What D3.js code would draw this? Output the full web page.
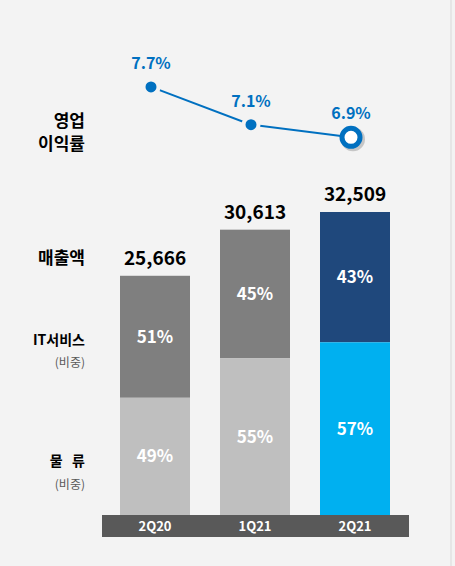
<!DOCTYPE html>
<html><head><meta charset="utf-8">
<script src="https://cdn.jsdelivr.net/npm/d3@7"></script>
<style>body{margin:0;background:#fff}text{font-family:"Noto Sans CJK KR","Open Sans",sans-serif;white-space:pre}</style>
</head><body><div id="chart"></div>
<script>
const quarters = ['2Q20', '1Q21', '2Q21'];
const sales = [25666, 30613, 32509];
const itShare = [51, 45, 43];
const logiShare = [49, 55, 57];
const margin = [7.7, 7.1, 6.9];

const W = 455, H = 566;
const svg = d3.select('#chart').append('svg').attr('width', W).attr('height', H);
svg.append('rect').attr('width', W).attr('height', H).attr('fill', '#f3f3f3');
svg.append('line').attr('x1', 451).attr('x2', 451).attr('y1', 0).attr('y2', H).attr('stroke', '#d9d9d9');

const x = d3.scaleBand().domain(quarters).range([105, 405]).paddingInner(0.3).paddingOuter(0.15);
const y = d3.scaleLinear().domain([0, 32509]).range([515, 212]);
const ym = d3.scaleLinear().domain([6, 8]).range([194, 68]);

const topCol = ['#7f7f7f', '#7f7f7f', '#1f487c'];
const botCol = ['#bfbfbf', '#bfbfbf', '#00b0f0'];

quarters.forEach((q, i) => {
  const x0 = x(q), bw = x.bandwidth();
  const yTop = y(sales[i]);
  const ySplit = y(sales[i] * logiShare[i] / 100);
  svg.append('rect').attr('x', x0).attr('y', yTop).attr('width', bw).attr('height', ySplit - yTop).attr('fill', topCol[i]);
  svg.append('rect').attr('x', x0).attr('y', ySplit).attr('width', bw).attr('height', 515 - ySplit).attr('fill', botCol[i]);
  svg.append('text').attr('x', x0 + bw / 2).attr('y', (yTop + ySplit) / 2 + 6).attr('text-anchor', 'middle')
    .attr('fill', '#fff').attr('font-size', 17).attr('font-weight', 'bold').text(itShare[i] + '%');
  svg.append('text').attr('x', x0 + bw / 2).attr('y', (ySplit + 515) / 2 + 6).attr('text-anchor', 'middle')
    .attr('fill', '#fff').attr('font-size', 17).attr('font-weight', 'bold').text(logiShare[i] + '%');
  svg.append('text').attr('x', x0 + bw / 2).attr('y', yTop - 11).attr('text-anchor', 'middle')
    .attr('fill', '#000').attr('font-size', 19).attr('font-weight', 'bold').text(d3.format(',')(sales[i]));
});

// axis band
svg.append('rect').attr('x', 102).attr('y', 515).attr('width', 307).attr('height', 22).attr('fill', '#595959');
quarters.forEach(q => {
  svg.append('text').attr('x', x(q) + x.bandwidth() / 2).attr('y', 531).attr('text-anchor', 'middle')
    .attr('fill', '#fff').attr('font-size', 13).attr('font-weight', 'bold').text(q);
});

// margin line
const pts = quarters.map((q, i) => [x(q) + x.bandwidth() / 2 - 4, ym(margin[i])]);
svg.append('path').attr('d', d3.line()(pts)).attr('fill', 'none').attr('stroke', '#0070c0').attr('stroke-width', 2);
pts.forEach((p, i) => {
  if (i < 2) {
    svg.append('circle').attr('cx', p[0]).attr('cy', p[1]).attr('r', 7.5).attr('fill', '#0070c0').attr('stroke', '#f3f3f3').attr('stroke-width', 4);
  } else {
    svg.append('circle').attr('cx', p[0] + 2).attr('cy', p[1] + 2).attr('r', 12).attr('fill', '#999').attr('opacity', 0.5);
    svg.append('circle').attr('cx', p[0]).attr('cy', p[1]).attr('r', 9).attr('fill', '#fff').attr('stroke', '#0070c0').attr('stroke-width', 5);
  }
  svg.append('text').attr('x', p[0]).attr('y', p[1] - 18).attr('text-anchor', 'middle')
    .attr('fill', '#0070c0').attr('font-size', 16).attr('font-weight', 'bold').text(margin[i] + '%');
});

// left labels
const lab = (t, yy, size, col, w) => svg.append('text').attr('x', 85).attr('y', yy).attr('text-anchor', 'end')
  .attr('fill', col).attr('font-size', size).attr('font-weight', w).text(t);
lab('영업', 127, 17, '#000', 'bold');
lab('이익률', 150, 17, '#000', 'bold');
lab('매출액', 264, 17, '#000', 'bold');
lab('IT서비스', 345, 14, '#000', 'bold');
lab('(비중)', 367, 12, '#595959', 'normal');
lab('물   류', 466, 14, '#000', 'bold');
lab('(비중)', 489, 12, '#595959', 'normal');
</script></body></html>
